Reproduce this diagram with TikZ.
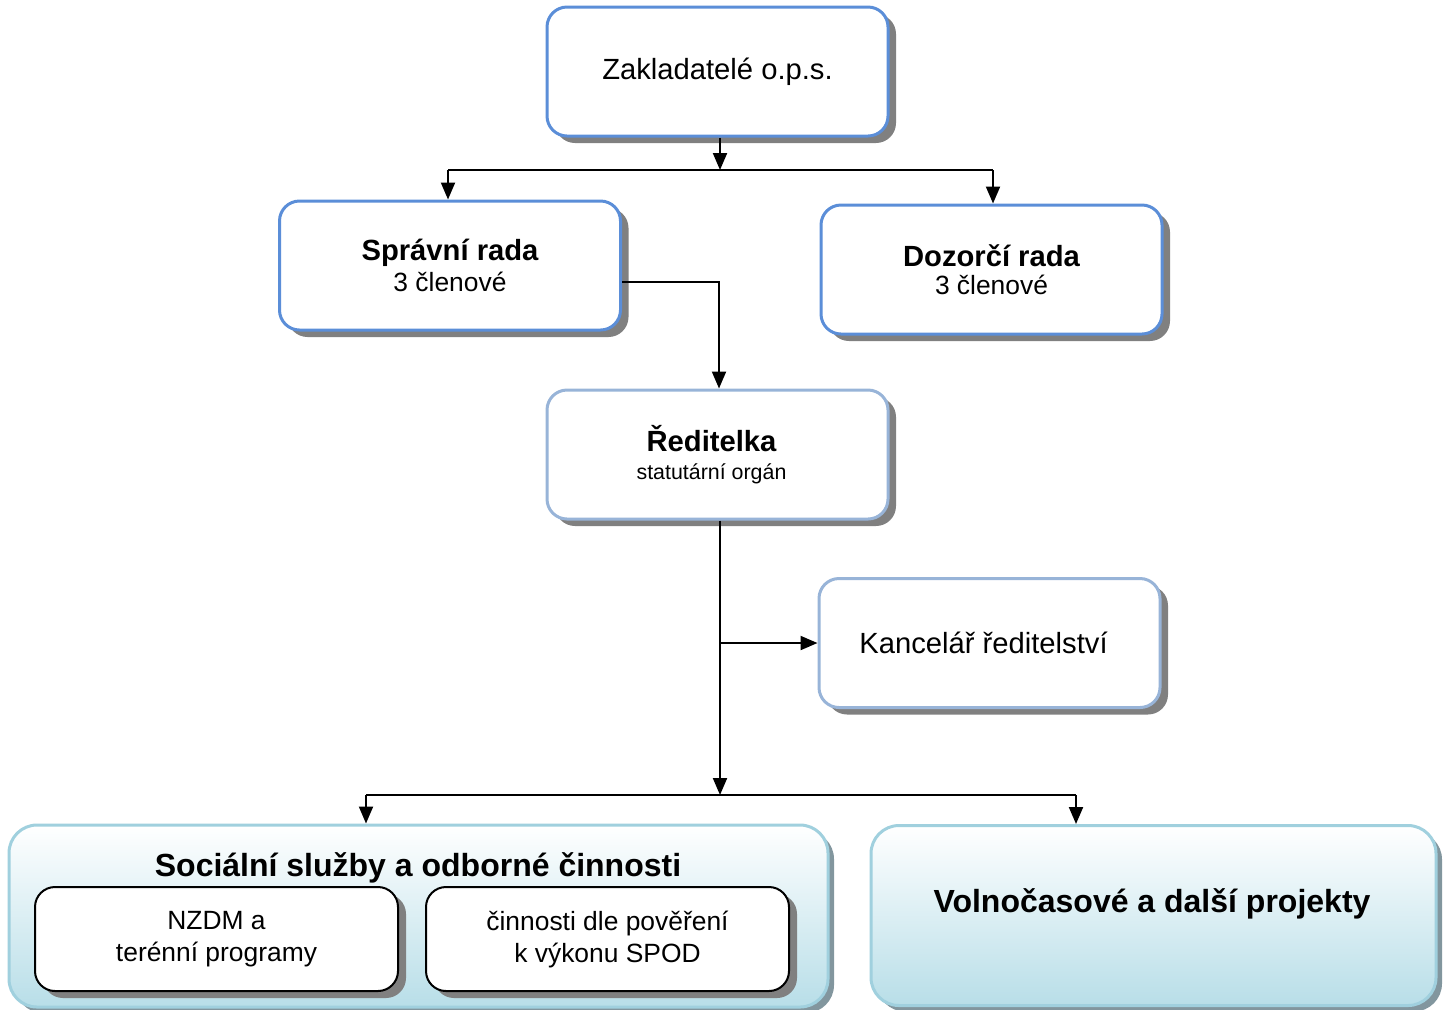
\documentclass[tikz,border=0pt]{standalone}
\usepackage{fontspec}
\setmainfont{Liberation Sans}
\usetikzlibrary{shadows,arrows.meta}
\definecolor{topblue}{RGB}{91,142,216}
\definecolor{midblue}{RGB}{152,180,216}
\definecolor{contborder}{RGB}{160,208,222}
\definecolor{contfill}{RGB}{184,222,232}
\definecolor{contshadow}{RGB}{130,150,158}
\definecolor{shadowgray}{RGB}{128,128,128}
\tikzset{
  orgbox/.style={draw=topblue, line width=1.5pt, fill=white, rounded corners=10pt,
    minimum width=170.5pt, minimum height=64.5pt, inner sep=0pt, align=center,
    drop shadow={shadow xshift=4pt, shadow yshift=-3.5pt, fill=shadowgray, opacity=1}},
  lightbox/.style={orgbox, draw=midblue},
  contbox/.style={draw=contborder, line width=1.5pt, rounded corners=14pt,
    top color=white, bottom color=contfill, inner sep=0pt,
    drop shadow={shadow xshift=3pt, shadow yshift=-3pt, fill=contshadow, opacity=1}},
  subbox/.style={draw=black, line width=1pt, fill=white, rounded corners=10pt,
    minimum width=181.5pt, minimum height=52pt, inner sep=0pt, align=center,
    drop shadow={shadow xshift=4pt, shadow yshift=-3.5pt, fill=shadowgray, opacity=1}},
  conn/.style={line width=1pt, draw=black},
  arr/.style={conn, -{Triangle[length=8.5pt,width=7pt]}},
  big/.style={font=\fontsize{14.6pt}{16pt}\selectfont},
  small/.style={font=\fontsize{13.2pt}{16pt}\selectfont},
}
\begin{document}
\begin{tikzpicture}[x=0.5pt,y=-0.5pt]
\useasboundingbox (0,0) rectangle (1444,1009);

% top boxes
\node[orgbox, big] (zak) at (717.5,71.5) {Zakladatelé o.p.s.};
\node[orgbox] (spr) at (450,265.5) {\fontsize{14.6pt}{16pt}\selectfont\bfseries Správní rada\\[2pt]\fontsize{13.2pt}{16pt}\selectfont 3 členové};
\node[orgbox] (doz) at (991.5,269.5) {\fontsize{14.6pt}{16pt}\selectfont\bfseries Dozorčí rada\\[2pt]\fontsize{13.2pt}{16pt}\selectfont 3 členové};
\node[lightbox] (red) at (717.5,454.5) {\fontsize{14.6pt}{16pt}\selectfont\bfseries Ředitelka\hspace*{6pt}\\[2pt]\fontsize{10.7pt}{13pt}\selectfont statutární orgán\hspace*{6pt}};
\node[lightbox, big] (kan) at (989.5,643) {Kancelář ředitelství\hspace*{6pt}};

% containers
\node[contbox, minimum width=409.5pt, minimum height=91pt] (soc) at (418.5,916) {};
\node[font=\fontsize{16pt}{18pt}\selectfont\bfseries] (soct) at (418,868) {Sociální služby a odborné činnosti};
\node[subbox, small] (nzdm) at (216.5,939) {NZDM a\\terénní programy};
\node[subbox, small] (spod) at (607.5,939) {činnosti dle pověření\\k výkonu SPOD};

\node[contbox, minimum width=282.5pt, minimum height=90pt] (vol) at (1153.5,915.5) {};
\node[font=\fontsize{16pt}{18pt}\selectfont\bfseries] (volt) at (1152,904) {Volnočasové a další projekty};

% connectors
\coordinate (j1) at (720,170);
\coordinate (j1l) at (448,170);
\coordinate (j1r) at (993,170);
\draw[arr] (zak.south -| j1) -- (j1);
\draw[conn] (j1l) -- (j1r);
\draw[arr] (j1l) -- (j1l |- spr.north);
\draw[arr] (j1r) -- (j1r |- doz.north);

\coordinate (j2) at (719,282);
\draw[arr] (spr.east |- j2) -- (j2) -- (j2 |- red.north);

\coordinate (j3) at (720,795);
\coordinate (j4) at (720,643);
\draw[arr] (red.south -| j3) -- (j3);
\draw[arr] (j4) -- (kan.west |- j4);

\coordinate (j3l) at (366,795);
\coordinate (j3r) at (1076,795);
\draw[conn] (j3l) -- (j3r);
\draw[arr] (j3l) -- (j3l |- soc.north);
\draw[arr] (j3r) -- (j3r |- vol.north);
\end{tikzpicture}
\end{document}
